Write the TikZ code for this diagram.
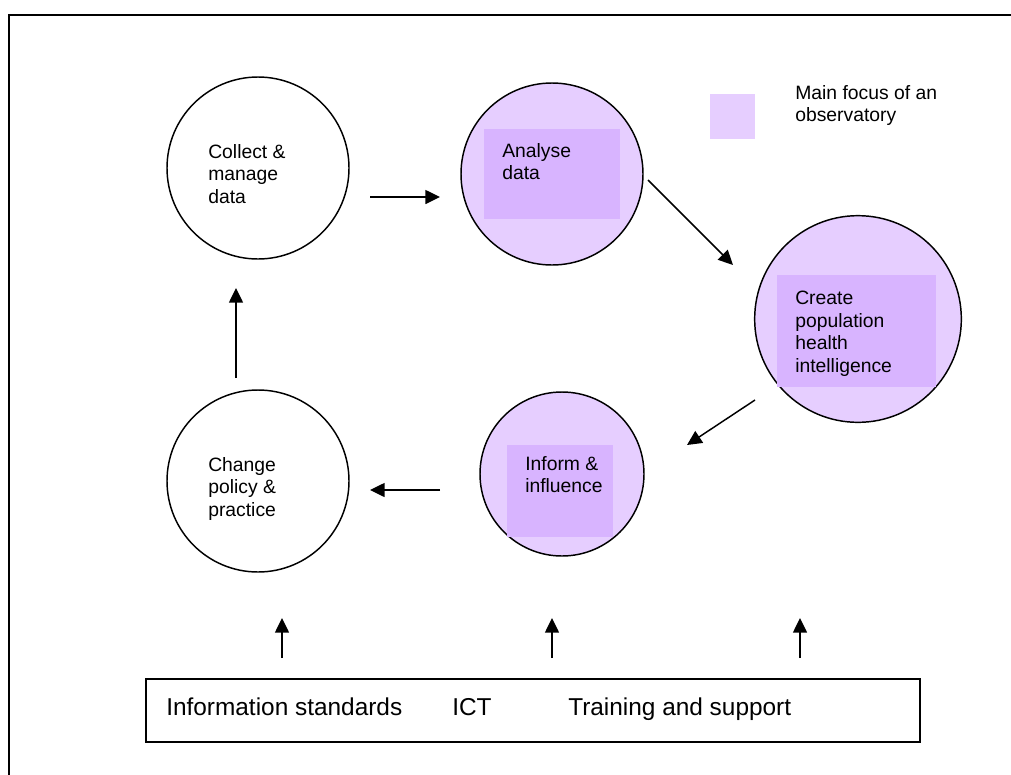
\documentclass[tikz,border=0pt]{standalone}
\usepackage{fontspec}
\setmainfont{Liberation Sans}
\usetikzlibrary{arrows.meta}
\definecolor{focusfill}{RGB}{230,206,255}
\definecolor{focuscore}{RGB}{216,180,255}
\begin{document}
\begin{tikzpicture}[x=0.75pt,y=-0.75pt,
  stage/.style={circle, draw=black, line width=1.1pt, inner sep=0pt, minimum size=#1},
  core/.style={fill=focuscore, draw=none, inner sep=0pt, anchor=north west},
  label/.style={anchor=north west, align=left, inner sep=0pt,
    font=\fontsize{14.5pt}{16.9pt}\selectfont},
  base/.style={anchor=base west, inner sep=0pt, font=\fontsize{18.3pt}{20pt}\selectfont},
  flow/.style={line width=1.1pt, -{Triangle[length=11pt,width=10.5pt]}},
]
\useasboundingbox (0,0) rectangle (1011,775);
% page frame (top and left edges)
\draw[line width=1.5pt] (9,775) -- (9,15) -- (1011,15);

% stages of the cycle
\node[stage=136.5pt] (collect) at (258,168) {};
\node[stage=136.5pt, fill=focusfill] (analyse) at (552,174) {};
\node[stage=155pt, fill=focusfill] (create) at (858,319) {};
\node[stage=123pt, fill=focusfill] (inform) at (562,474) {};
\node[stage=136.5pt] (change) at (258,481) {};

% shaded cores of the focus stages
\node[core, minimum width=102pt, minimum height=67.5pt] (analysecore) at (484,129) {};
\node[core, minimum width=119pt, minimum height=84pt] (createcore) at (777,275) {};
\node[core, minimum width=79pt, minimum height=69pt] (informcore) at (507,445) {};

% stage texts
\node[label] (collecttext) at (208,144) {Collect \&\\manage\\data};
\node[label] (analysetext) at (502,143) {Analyse\\data};
\node[label] (createtext) at (795,291) {Create\\population\\health\\intelligence};
\node[label] (informtext) at (525,456) {Inform \&\\influence};
\node[label] (changetext) at (208,457) {Change\\policy \&\\practice};

% legend
\node[fill=focusfill, minimum width=33.75pt, minimum height=33.75pt, inner sep=0pt, anchor=north west] (legendkey) at (710,94) {};
\node[label] (legendtext) at (795,85) {Main focus of an\\observatory};

% arrows between stages
\coordinate (a1s) at (370,197); \coordinate (a1e) at (440,197);
\coordinate (a2s) at (648,180); \coordinate (a2e) at (733,265);
\coordinate (a3s) at (755,400); \coordinate (a3e) at (687,445);
\coordinate (a4s) at (440,490); \coordinate (a4e) at (370,490);
\coordinate (a5s) at (236,378); \coordinate (a5e) at (236,288);
\draw[flow] (a1s) -- (a1e);
\draw[flow] (a2s) -- (a2e);
\draw[flow] (a3s) -- (a3e);
\draw[flow] (a4s) -- (a4e);
\draw[flow] (a5s) -- (a5e);

% supporting foundations
\draw[line width=1.1pt] (146,679) rectangle (920,742);
\node[base] (standards) at (166,715) {Information standards};
\node[base] (ict) at (452,715) {ICT};
\node[base] (training) at (568,715) {Training and support};
\coordinate (b1s) at (282,658); \coordinate (b1e) at (282,618);
\coordinate (b2s) at (552,658); \coordinate (b2e) at (552,618);
\coordinate (b3s) at (800,658); \coordinate (b3e) at (800,618);
\draw[flow] (b1s) -- (b1e);
\draw[flow] (b2s) -- (b2e);
\draw[flow] (b3s) -- (b3e);
\end{tikzpicture}
\end{document}
